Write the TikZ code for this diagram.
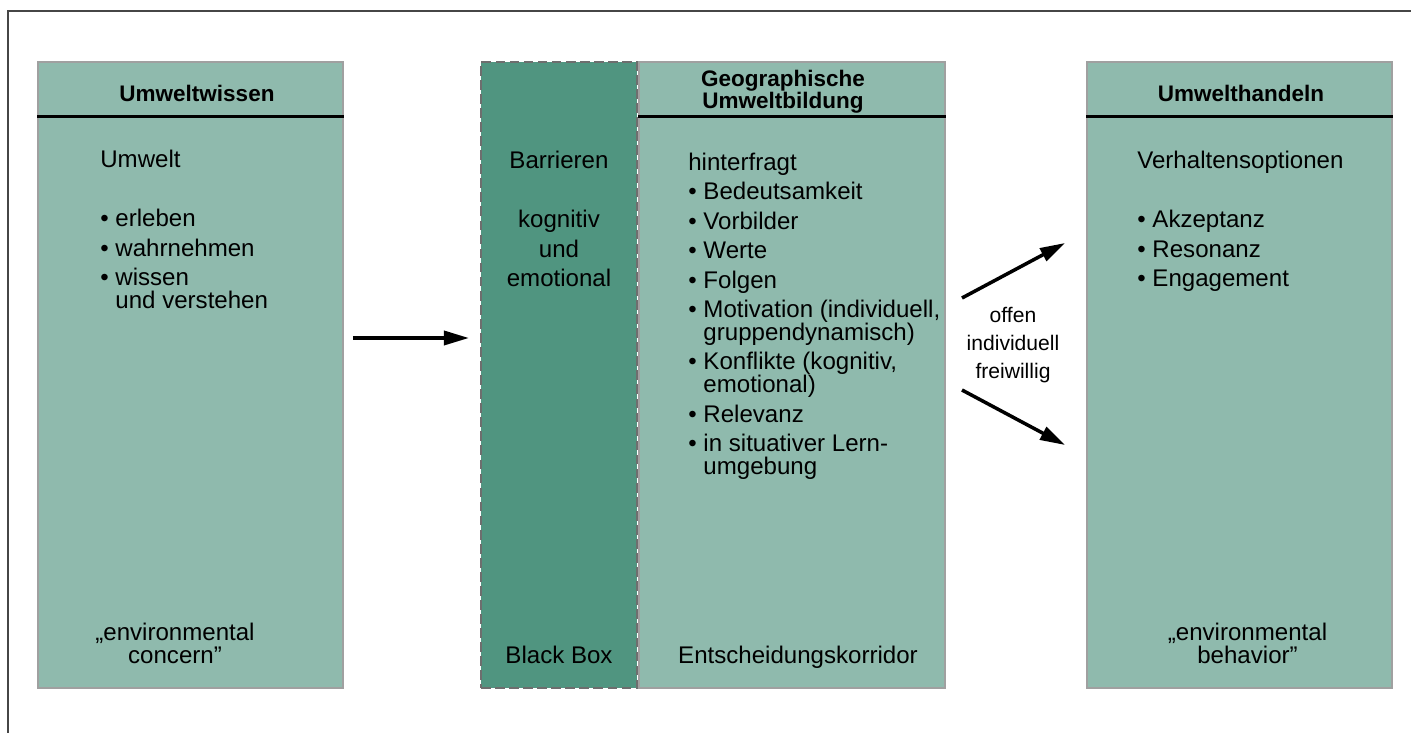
\documentclass[tikz,border=0pt]{standalone}
\usepackage{fontspec}
\setmainfont{Liberation Sans}
\usetikzlibrary{arrows.meta}
\definecolor{lightteal}{RGB}{143,186,173}
\definecolor{darkteal}{RGB}{80,149,128}
\definecolor{edgegray}{RGB}{160,160,160}
\definecolor{dashgray}{RGB}{110,110,110}
\definecolor{framegray}{RGB}{70,70,70}

\begin{document}
\begin{tikzpicture}[
    box/.style={rectangle, draw=edgegray, line width=1pt, fill=lightteal, minimum width=6.1cm, minimum height=12.52cm, inner sep=0pt},
    darkbox/.style={box, draw=dashgray, line width=1.2pt, fill=darkteal, minimum width=3.12cm, dash pattern=on 5.5pt off 2.5pt},
    headline/.style={line width=1.8pt},
    title/.style={font=\bfseries\fontsize{12.8}{13}\selectfont, align=center, anchor=base, inner sep=0pt},
    body/.style={font=\fontsize{13.7}{13.04}\selectfont, align=left, anchor=base west, inner sep=0pt},
    note/.style={font=\fontsize{13.7}{13.04}\selectfont, align=center, anchor=base, inner sep=0pt},
    arrow/.style={-{Triangle[length=0.5cm, width=0.28cm]}, line width=2pt}
]
    \useasboundingbox (0,0) rectangle (28.22,14.66);
    \draw[framegray, line width=0.8pt] (0.16,0) -- (0.16,14.44) -- (28.22,14.44);

    % boxes
    \node[box] (wissen) at (3.81,7.16) {};
    \node[darkbox] (blackbox) at (11.18,7.16) {};
    \node[box, minimum width=6.12cm] (bildung) at (15.84,7.16) {};
    \node[box] (handeln) at (24.79,7.16) {};

    \draw[headline] ([yshift=-1.1cm]wissen.north west) -- ([yshift=-1.1cm]wissen.north east);
    \draw[headline] ([yshift=-1.1cm]bildung.north west) -- ([yshift=-1.1cm]bildung.north east);
    \draw[headline] ([yshift=-1.1cm]handeln.north west) -- ([yshift=-1.1cm]handeln.north east);

    % headers (anchor = baseline of the last line)
    \node[title] (wissenhead) at (3.94,12.62) {Umweltwissen};
    \node[title] (bildunghead) at (15.66,12.48) {Geographische\\Umweltbildung};
    \node[title] (handelnhead) at (24.82,12.62) {Umwelthandeln};

    % contents
    \node[body] (wissentext) at (2.0,8.49) {Umwelt\\[20.4pt]
        \textbullet\ erleben\\[3.7pt]
        \textbullet\ wahrnehmen\\[3.7pt]
        \textbullet\ wissen\\
        \hphantom{\textbullet\ }und verstehen};
    \node[note] (barrieretext) at (11.18,8.93) {Barrieren\\[20.4pt]
        kognitiv\\[3.7pt]
        und\\[3.7pt]
        emotional};
    \node[body] (bildungtext) at (13.76,5.17) {hinterfragt\\[3.7pt]
        \textbullet\ Bedeutsamkeit\\[3.7pt]
        \textbullet\ Vorbilder\\[3.7pt]
        \textbullet\ Werte\\[3.7pt]
        \textbullet\ Folgen\\[3.7pt]
        \textbullet\ Motivation (individuell,\\
        \hphantom{\textbullet\ }gruppendynamisch)\\[3.7pt]
        \textbullet\ Konflikte (kognitiv,\\
        \hphantom{\textbullet\ }emotional)\\[3.7pt]
        \textbullet\ Relevanz\\[3.7pt]
        \textbullet\ in situativer Lern-\\
        \hphantom{\textbullet\ }umgebung};
    \node[body] (handelntext) at (22.74,8.93) {Verhaltensoptionen\\[20.4pt]
        \textbullet\ Akzeptanz\\[3.7pt]
        \textbullet\ Resonanz\\[3.7pt]
        \textbullet\ Engagement};

    \node[note] (concern) at (3.5,1.39) {„environmental\\concern”};
    \node[note] (blacklabel) at (11.18,1.39) {Black Box};
    \node[note] (korridor) at (15.96,1.39) {Entscheidungskorridor};
    \node[note] (behavior) at (24.95,1.39) {„environmental\\behavior”};

    \node[font=\fontsize{12}{16.2}\selectfont, align=center, anchor=base, inner sep=0pt] (choice) at (20.26,7.08) {offen\\individuell\\freiwillig};

    % arrows
    \coordinate (arrowrow) at (0,7.9);
    \coordinate (up0) at (19.24,8.70);
    \coordinate (up1) at (21.30,9.80);
    \coordinate (down0) at (19.24,6.86);
    \coordinate (down1) at (21.30,5.76);

    \draw[arrow, shorten <=0.18cm, shorten >=0.22cm] (wissen.east |- arrowrow) -- (blackbox.west |- arrowrow);
    \draw[arrow] (up0) -- (up1);
    \draw[arrow] (down0) -- (down1);
\end{tikzpicture}
\end{document}
